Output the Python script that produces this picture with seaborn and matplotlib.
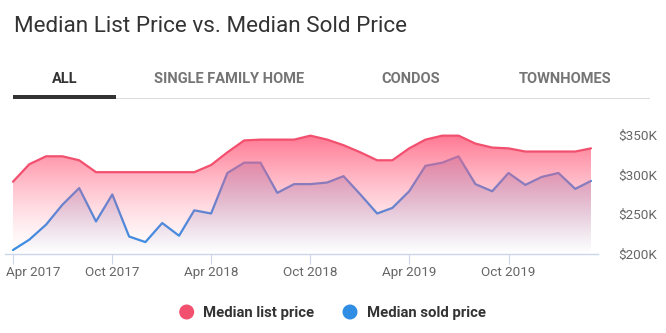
import numpy as np
import pandas as pd
import matplotlib
matplotlib.use("Agg")
import matplotlib.pyplot as plt
import matplotlib.dates as mdates
import matplotlib.transforms as mtransforms
from matplotlib.patches import Polygon, Ellipse, Rectangle
import seaborn as sns

# Monthly medians, Apr 2017 - Mar 2020 (thousands of dollars)
months = pd.date_range("2017-04-01", "2020-03-01", freq="MS")
list_price = [291, 313, 323, 323, 318, 303, 303, 303, 303, 303, 303, 303,
              312, 328, 343, 344, 344, 344, 349, 344, 337, 328, 318, 318,
              333, 344, 349, 349, 339, 334, 333, 329, 329, 329, 329, 333]
sold_price = [205, 218, 237, 262, 283, 241, 275, 222, 215, 239, 223, 255,
              251, 302, 315, 315, 277, 288, 288, 290, 298, 275, 251, 258,
              279, 311, 315, 323, 288, 279, 302, 287, 297, 302, 282, 292]

tick_dates = ["2017-04-01", "2017-10-01", "2018-04-01", "2018-10-01",
              "2019-04-01", "2019-10-01"]
tick_labels = ["Apr 2017", "Oct 2017", "Apr 2018", "Oct 2018", "Apr 2019", "Oct 2019"]
y_ticks = [200, 250, 300, 350]
y_labels = ["$200K", "$250K", "$300K", "$350K"]
tabs = ["ALL", "SINGLE FAMILY HOME", "CONDOS", "TOWNHOMES"]
series_names = ["Median list price", "Median sold price"]

LIST_COLOR = "#f2506f"
SOLD_COLOR = "#3a8ee6"

df = pd.DataFrame({"month": months, "list": list_price, "sold": sold_price})

sns.set_theme(style="white")
plt.rcParams["font.family"] = ["Roboto", "DejaVu Sans"]

W, H = 666, 333
fig = plt.figure(figsize=(W / 100, H / 100), dpi=100)
fig.patch.set_facecolor("white")

ax = fig.add_axes([5 / W, 1 - 254 / H, 593 / W, 139 / H])
ax.set_facecolor("none")

x0 = mdates.date2num(months[0]) - 14.7
x1 = mdates.date2num(months[-1]) + 12.9
ymin, ymax = 200, 375
ax.set_xlim(x0, x1)
ax.set_ylim(ymin, ymax)

xnum = mdates.date2num(df["month"])


def gradient_area(values, rgb, alpha_top, v_top, gamma, z):
    verts = [(xnum[0], ymin)] + list(zip(xnum, values)) + [(xnum[-1], ymin)]
    clip = Polygon(verts, closed=True, facecolor="none", edgecolor="none",
                   transform=ax.transData)
    ax.add_patch(clip)
    ys = np.linspace(ymax, ymin, 400)
    t = np.clip((ys - ymin) / (v_top - ymin), 0, 1) ** gamma
    img = np.zeros((400, 2, 4))
    img[..., 0] = rgb[0]
    img[..., 1] = rgb[1]
    img[..., 2] = rgb[2]
    img[..., 3] = (alpha_top * t)[:, None]
    im = ax.imshow(img, extent=[x0, x1, ymin, ymax], aspect="auto",
                   origin="upper", zorder=z, interpolation="bilinear")
    im.set_clip_path(clip)


# sold price: soft bluish fill and line, underneath the list-price fill
gradient_area(sold_price, (0.30, 0.34, 0.66), 0.38, 325, 1.0, 1)
sns.lineplot(data=df, x="month", y="sold", ax=ax, color=SOLD_COLOR,
             linewidth=1.6, zorder=2, legend=False)
# list price: pink fill fading to white
gradient_area(list_price, (1.0, 0.38, 0.50), 0.85, 350, 1.4, 3)
sns.lineplot(data=df, x="month", y="list", ax=ax, color=LIST_COLOR,
             linewidth=1.6, zorder=4, legend=False)

# axes styling
for s in ["top", "left", "right"]:
    ax.spines[s].set_visible(False)
ax.spines["bottom"].set_color("#ccd6eb")
ax.spines["bottom"].set_linewidth(1)
ax.set_xlabel("")
ax.set_ylabel("")
ax.set_xticks(mdates.date2num(pd.to_datetime(tick_dates)))
ax.set_xticklabels(tick_labels)
ax.tick_params(axis="x", length=7.2, width=0.8, color="#ccd6eb", pad=1.5,
               labelsize=9.7, labelcolor="#666666", bottom=True)
# keep the first date label inside the figure
first = ax.get_xticklabels()[0]
first.set_horizontalalignment("left")
first.set_transform(first.get_transform() +
                    mtransforms.ScaledTranslation(-7 / 100, 0, fig.dpi_scale_trans))

ax.yaxis.tick_right()
ax.set_yticks(y_ticks)
ax.set_yticklabels(y_labels)
ax.tick_params(axis="y", length=0, pad=14.4, labelsize=9.7, labelcolor="#666666")
for lab in ax.get_yticklabels():
    lab.set_horizontalalignment("left")
ax.grid(False)

# title
fig.text(14 / W, 1 - 32 / H, "Median List Price vs. Median Sold Price",
         fontsize=16.2, fontweight="normal", color="#333333", va="baseline", ha="left")

# tab bar
tab_centers = [64.5, 229.5, 411, 565]
for i, (name, cx) in enumerate(zip(tabs, tab_centers)):
    fig.text(cx / W, 1 - 83.3 / H, name, fontsize=10.5, fontweight="bold",
             color="#333333" if i == 0 else "#757575", ha="center", va="baseline")
fig.add_artist(Rectangle((116 / W, 1 - 99 / H), 534 / W, 1 / H,
                         transform=fig.transFigure, facecolor="#dddddd",
                         edgecolor="none"))
fig.add_artist(Rectangle((13 / W, 1 - 99 / H), 103 / W, 4 / H,
                         transform=fig.transFigure, facecolor="#333333",
                         edgecolor="none"))

# legend
legend_items = [(186.7, 203, series_names[0], "#f2506f"),
                (350, 367, series_names[1], "#2f8de4")]
for cx, tx, name, col in legend_items:
    fig.add_artist(Ellipse((cx / W, 1 - 312 / H), 15 / W, 15 / H,
                           transform=fig.transFigure, facecolor=col,
                           edgecolor="none"))
    fig.text(tx / W, 1 - 312 / H, name, fontsize=10.7, fontweight="bold",
             color="#333333", ha="left", va="center_baseline")

fig.savefig("out.png", dpi=100)
